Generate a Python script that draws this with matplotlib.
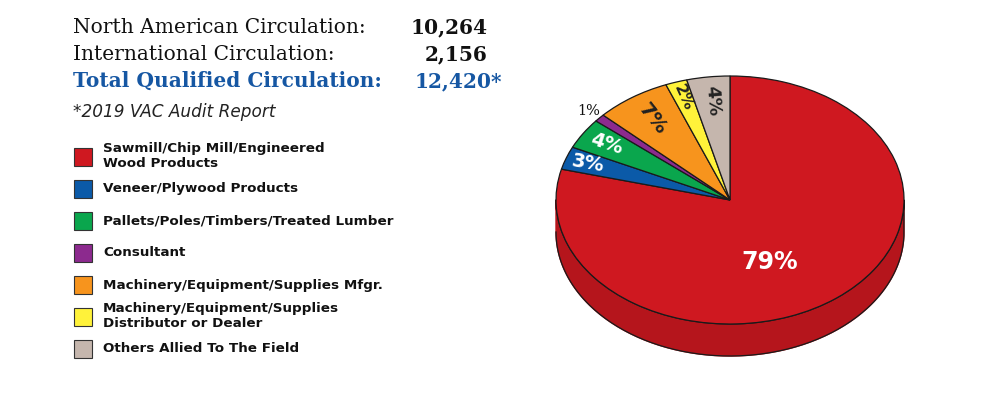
import numpy as np
import matplotlib
matplotlib.use("Agg")
from matplotlib import pyplot as plt
from matplotlib.patches import Rectangle

# circulation figures
circ_labels = ["North American Circulation:", "International Circulation:",
               "Total Qualified Circulation:"]
circ_values = ["10,264", "2,156", "12,420*"]
footnote = "*2019 VAC Audit Report"

# pie data (legend order, drawn clockwise from 12 o'clock)
categories = ["Sawmill/Chip Mill/Engineered\nWood Products",
              "Veneer/Plywood Products",
              "Pallets/Poles/Timbers/Treated Lumber",
              "Consultant",
              "Machinery/Equipment/Supplies Mfgr.",
              "Machinery/Equipment/Supplies\nDistributor or Dealer",
              "Others Allied To The Field"]
shares = [79, 3, 4, 1, 7, 2, 4]

colors = ["#cf1820", "#0b5aa8", "#0aa64d", "#8c2a8e", "#f7941d", "#fff23a", "#c5b6ad"]
side_color = "#b5151c"
label_colors = ["white", "white", "white", "#111111", "#222222", "#222222", "#222222"]
label_r = [0.55, 0.87, 0.84, 1.08, 0.79, 0.87, 0.81]
label_dang = [-13, 0, 0, 0, 0, 0, 0]
label_rot = [0, -10, -18, 0, -52, -66, -85]
label_size = [17, 14, 14, 10.5, 14.5, 11.5, 13]

W, H = 1000, 394
fig = plt.figure(figsize=(W / 100, H / 100), dpi=100)

# pie axes spanning the whole figure, unit circle mapped to an ellipse
cx, cy, rx, ry = 730, 200, 174, 124
depth = 32 / ry
ax = fig.add_axes([0, 0, 1, 1])
wedges, _ = ax.pie(shares, colors=colors, startangle=90, counterclock=False,
                   wedgeprops=dict(edgecolor="#1a1a1a", linewidth=0.9))
for w in wedges:
    w.set_zorder(3)
ax.set_aspect("auto")
ax.set_xlim((0 - cx) / rx, (W - cx) / rx)
ax.set_ylim(-(H - cy) / ry, cy / ry)
ax.axis("off")

# side of the disc (front half)
th = np.linspace(np.pi, 2 * np.pi, 200)
xs = np.concatenate([np.cos(th), np.cos(th[::-1])])
ys = np.concatenate([np.sin(th), np.sin(th[::-1]) - depth])
ax.fill(xs, ys, color=side_color, zorder=2)
ax.plot(xs, ys, color="#1a1a1a", lw=0.9, zorder=2.5)

# percentage labels
total = sum(shares)
start = 90.0
for i, s in enumerate(shares):
    mid = np.radians(start - 360 * s / total / 2 + label_dang[i])
    start -= 360 * s / total
    fam = "DejaVu Serif" if i == 3 else "DejaVu Sans"
    wt = "normal" if i == 3 else "bold"
    ax.text(label_r[i] * np.cos(mid), label_r[i] * np.sin(mid), f"{s}%",
            color=label_colors[i], fontsize=label_size[i], fontweight=wt,
            family=fam, rotation=label_rot[i], ha="center", va="center",
            zorder=5)

# header
def px(x, y):
    return x / W, 1 - y / H

blue = "#1657a3"
for i, (lab, val) in enumerate(zip(circ_labels, circ_values)):
    y = 33 + 27 * i
    col = blue if i == 2 else "#111111"
    wt = "bold" if i == 2 else "normal"
    fig.text(*px(73, y), lab, family="DejaVu Serif", fontsize=14.5,
             fontweight=wt, color=col, va="baseline")
    if i < 2:
        fig.text(*px(488, y), val, family="DejaVu Serif", fontsize=14.5,
                 fontweight="bold", color=col, va="baseline", ha="right")
    else:
        fig.text(*px(415, y), val, family="DejaVu Serif", fontsize=14.5,
                 fontweight="bold", color=col, va="baseline", ha="left")
fig.text(*px(73, 117), footnote, family="DejaVu Sans", fontsize=12.2,
         style="italic", color="#222222", va="baseline")

# legend
for i, (lab, c) in enumerate(zip(categories, colors)):
    yc = 157 + 32 * i
    x0, y0 = px(74, yc + 9)
    fig.patches.append(Rectangle((x0, y0), 18 / W, 18 / H, transform=fig.transFigure,
                                 facecolor=c, edgecolor="#333333", lw=0.8))
    ty = yc - 1 if "\n" in lab else yc
    fig.text(*px(103, ty), lab, family="DejaVu Sans", fontsize=9.7,
             fontweight="bold", color="#111111", va="center", linespacing=1.15)

fig.savefig("out.png", dpi=100, facecolor="white")
